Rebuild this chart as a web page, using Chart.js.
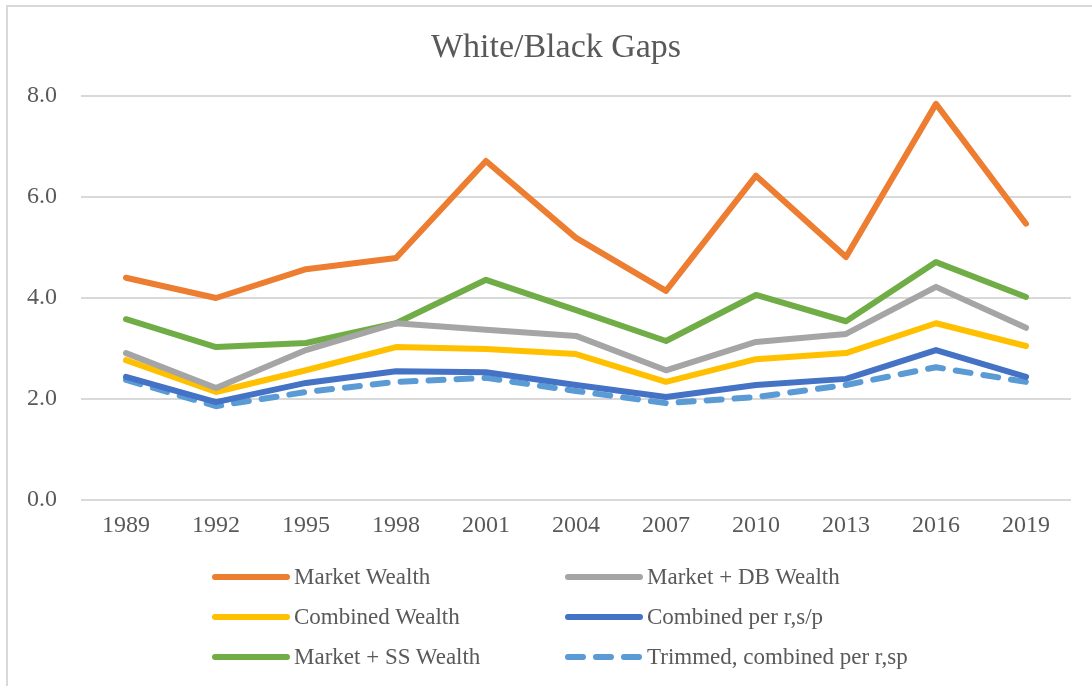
<!DOCTYPE html>
<html>
<head>
<meta charset="utf-8">
<script src="https://cdn.jsdelivr.net/npm/chart.js@4"></script>
<style>
    html, body { margin: 0; padding: 0; background: #fff; }
    #wrap { position: relative; width: 1092px; height: 686px; overflow: hidden; }
    #frame { position: absolute; left: 6px; top: 5px; width: 1200px; height: 800px;
             border-left: 2px solid #d9d9d9; border-top: 2px solid #d9d9d9; box-sizing: border-box; }
    #legend { position: absolute; left: 0; top: 0; width: 1092px; height: 686px; pointer-events: none;
              font-family: "Liberation Serif", "Times New Roman", serif; font-size: 23px; color: #595959; }
    .item { position: absolute; height: 30px; display: flex; align-items: center; white-space: nowrap; }
    .item svg { margin-right: 3px; }
</style>
</head>
<body>
<div id="wrap">
    <div id="frame"></div>
    <canvas id="chart" width="1092" height="686"></canvas>
    <div id="legend"></div>
</div>
<script>
const years = ['1989', '1992', '1995', '1998', '2001', '2004', '2007', '2010', '2013', '2016', '2019'];

const marketWealth = [4.40, 4.00, 4.57, 4.79, 6.71, 5.19, 4.14, 6.42, 4.81, 7.84, 5.47];
const marketDbWealth = [2.91, 2.22, 2.97, 3.50, 3.37, 3.25, 2.57, 3.13, 3.29, 4.22, 3.41];
const combinedWealth = [2.77, 2.14, 2.57, 3.03, 2.99, 2.89, 2.34, 2.79, 2.91, 3.50, 3.05];
const combinedPerRsp = [2.44, 1.94, 2.32, 2.55, 2.53, 2.28, 2.04, 2.28, 2.40, 2.97, 2.44];
const marketSsWealth = [3.58, 3.03, 3.11, 3.50, 4.36, 3.76, 3.15, 4.06, 3.54, 4.71, 4.02];
const trimmedCombined = [2.38, 1.86, 2.14, 2.34, 2.42, 2.16, 1.92, 2.04, 2.28, 2.63, 2.34];

const yTicks = [0, 2, 4, 6, 8];

const textColor = '#595959';
const font = '"Liberation Serif", "Times New Roman", serif';

function line(label, data, color, dash) {
    return {
        label: label,
        data: data,
        borderColor: color,
        backgroundColor: color,
        borderWidth: 6,
        borderDash: dash || [],
        borderCapStyle: 'round',
        borderJoinStyle: 'round',
        pointRadius: 0,
        tension: 0,
        fill: false
    };
}

const datasets = [
    line('Market Wealth', marketWealth, '#ED7D31'),
    line('Market + DB Wealth', marketDbWealth, '#A5A5A5'),
    line('Combined Wealth', combinedWealth, '#FFC000'),
    line('Combined per r,s/p', combinedPerRsp, '#4472C4'),
    line('Market + SS Wealth', marketSsWealth, '#70AD47'),
    line('Trimmed, combined per r,sp', trimmedCombined, '#5B9BD5', [15, 13])
];

// legend laid out in two columns like the original
const legendPlugin = {
    id: 'gridLegend',
    afterUpdate(chart) {
        const box = document.getElementById('legend');
        box.innerHTML = '';
        const colX = [211, 564];
        const rowY = [562, 602, 642];
        chart.data.datasets.forEach((ds, i) => {
            const item = document.createElement('div');
            item.className = 'item';
            item.style.left = colX[i % 2] + 'px';
            item.style.top = rowY[Math.floor(i / 2)] + 'px';
            const dash = ds.borderDash.length ? 'stroke-dasharray="15 13"' : '';
            item.innerHTML =
                '<svg width="80" height="10"><line x1="4" y1="5" x2="76" y2="5" stroke="' + ds.borderColor +
                '" stroke-width="6" stroke-linecap="round" ' + dash + '/></svg>' +
                '<span>' + ds.label + '</span>';
            box.appendChild(item);
        });
    }
};

new Chart(document.getElementById('chart').getContext('2d'), {
    type: 'line',
    data: { labels: years, datasets: datasets },
    options: {
        responsive: false,
        animation: false,
        layout: { padding: { left: 41, right: 21, top: 10, bottom: 135 } },
        plugins: {
            legend: { display: false },
            tooltip: { enabled: false },
            title: {
                display: true,
                text: 'White/Black Gaps',
                color: textColor,
                font: { family: font, size: 34, weight: 'normal' },
                padding: { top: 18, bottom: 27 }
            }
        },
        scales: {
            x: {
                offset: true,
                grid: { display: false, drawTicks: false },
                border: { display: false },
                ticks: { color: textColor, padding: 11, font: { family: font, size: 24 } }
            },
            y: {
                min: yTicks[0],
                max: yTicks[yTicks.length - 1],
                afterBuildTicks: axis => { axis.ticks = yTicks.map(v => ({ value: v })); },
                afterFit: axis => { axis.width = 40; },
                grid: { color: '#d9d9d9', lineWidth: 2, drawTicks: false },
                border: { display: false },
                ticks: {
                    mirror: true,
                    color: textColor,
                    padding: -54,
                    font: { family: font, size: 24 },
                    callback: v => v.toFixed(1)
                }
            }
        }
    },
    plugins: [legendPlugin]
});
</script>
</body>
</html>
